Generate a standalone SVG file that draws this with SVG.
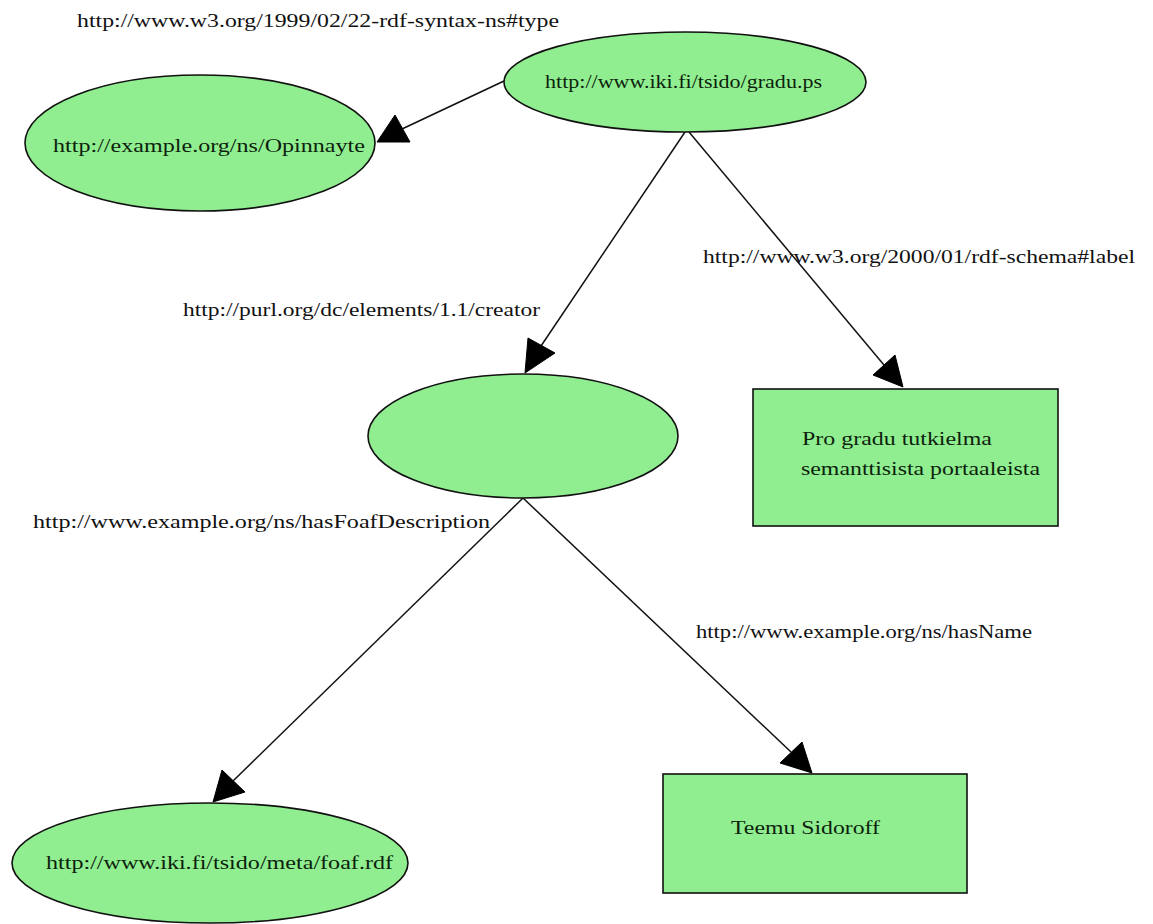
<svg xmlns="http://www.w3.org/2000/svg" width="1153" height="924" viewBox="0 0 1153 924">
<style>
.node{fill:#90ee90;stroke:#111;stroke-width:1.6}
.t{font-family:"Liberation Serif",serif;font-size:18px;fill:#0d1f0d}
.lbl{font-family:"Liberation Serif",serif;font-size:18px;fill:#111}
.edge{stroke:#111;stroke-width:1.5;fill:none}
.head{fill:#000;stroke:#000;stroke-width:1}
</style>
<rect width="1153" height="924" fill="#fff"/>
<g id="connectors">
<line class="edge" x1="504" y1="81" x2="402" y2="129"/>
<polygon class="head" points="377,142 395,115 410,142"/>
<line class="edge" x1="685" y1="132" x2="541" y2="346"/>
<polygon class="head" points="525,373 528,338 555,353"/>
<line class="edge" x1="689" y1="132" x2="884" y2="365"/>
<polygon class="head" points="903,387 873,375 895,355"/>
<line class="edge" x1="523" y1="498" x2="233" y2="781"/>
<polygon class="head" points="213,802 222,770 245,792"/>
<line class="edge" x1="523" y1="498" x2="791" y2="752"/>
<polygon class="head" points="812,773 780,763 802,742"/>
<text class="lbl" x="77" y="27" textLength="482" lengthAdjust="spacingAndGlyphs">http://www.w3.org/1999/02/22-rdf-syntax-ns#type</text>
<text class="lbl" x="703" y="263" textLength="432" lengthAdjust="spacingAndGlyphs">http://www.w3.org/2000/01/rdf-schema#label</text>
<text class="lbl" x="183" y="316" textLength="357" lengthAdjust="spacingAndGlyphs">http://purl.org/dc/elements/1.1/creator</text>
<text class="lbl" x="33" y="528" textLength="457" lengthAdjust="spacingAndGlyphs">http://www.example.org/ns/hasFoafDescription</text>
<text class="lbl" x="696" y="638" textLength="336" lengthAdjust="spacingAndGlyphs">http://www.example.org/ns/hasName</text>
</g>
<g id="gradu">
<ellipse class="node" cx="685" cy="82" rx="181" ry="50"/>
<text class="t" x="545" y="88" textLength="277" lengthAdjust="spacingAndGlyphs">http://www.iki.fi/tsido/gradu.ps</text>
</g>
<g id="opinnayte">
<ellipse class="node" cx="200" cy="143" rx="175" ry="68"/>
<text class="t" x="53" y="152" textLength="312" lengthAdjust="spacingAndGlyphs">http://example.org/ns/Opinnayte</text>
</g>
<g id="blank">
<ellipse class="node" cx="523" cy="436" rx="155" ry="62"/>
</g>
<g id="label">
<rect class="node" x="753" y="389" width="305" height="137"/>
<text class="t" x="802" y="445" textLength="190" lengthAdjust="spacingAndGlyphs">Pro gradu tutkielma</text>
<text class="t" x="801" y="475" textLength="239" lengthAdjust="spacingAndGlyphs">semanttisista portaaleista</text>
</g>
<g id="foaf">
<ellipse class="node" cx="210" cy="863" rx="198" ry="60"/>
<text class="t" x="46" y="869" textLength="347" lengthAdjust="spacingAndGlyphs">http://www.iki.fi/tsido/meta/foaf.rdf</text>
</g>
<g id="name">
<rect class="node" x="663" y="774" width="304" height="119"/>
<text class="t" x="731" y="834" textLength="149" lengthAdjust="spacingAndGlyphs">Teemu Sidoroff</text>
</g>
</svg>
